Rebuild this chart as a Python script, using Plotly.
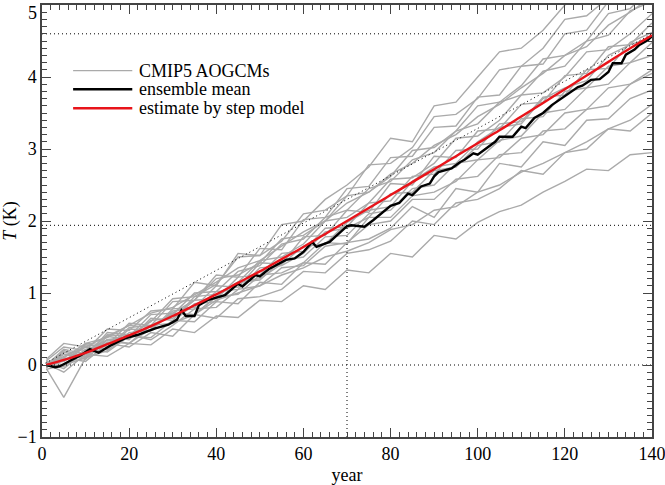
import plotly.graph_objects as go

# ---------------- data ----------------
gray_years = [1, 5, 10, 15, 20, 25, 30, 35, 40, 45, 50, 55, 60, 65, 70, 75, 80,
              85, 90, 95, 100, 105, 110, 115, 120, 125, 130, 135, 140]

model_A = [0.02, -0.10, 0.15, 0.12, 0.30, 0.28, 0.50, 0.45, 0.68, 0.66, 0.90, 0.88, 1.10, 1.05, 1.32, 1.28, 1.55, 1.50, 1.80, 1.75, 1.98, 2.13, 2.22, 2.40, 2.55, 2.72, 2.70, 2.92, 2.95]
model_B = [-0.03, 0.10, 0.05, 0.30, 0.25, 0.45, 0.40, 0.70, 0.65, 0.92, 0.95, 1.05, 1.30, 1.28, 1.55, 1.60, 1.72, 2.00, 1.95, 2.25, 2.30, 2.45, 2.70, 2.65, 2.95, 3.00, 3.28, 3.25, 3.50]
model_C = [0.05, 0.00, 0.22, 0.18, 0.40, 0.38, 0.62, 0.60, 0.88, 0.85, 1.15, 1.12, 1.42, 1.40, 1.70, 1.75, 1.90, 2.20, 2.05, 2.45, 2.40, 2.80, 2.75, 3.10, 3.05, 3.40, 3.42, 3.70, 3.82]
model_D = [-0.05, -0.45, 0.10, 0.20, 0.42, 0.35, 0.55, 0.78, 0.80, 1.05, 1.10, 1.35, 1.38, 1.65, 1.70, 1.95, 2.00, 2.30, 2.30, 2.58, 2.62, 2.92, 2.95, 3.25, 3.28, 3.55, 3.60, 3.90, 4.05]
model_E = [0.03, 0.15, 0.08, 0.35, 0.30, 0.55, 0.58, 0.70, 0.95, 0.98, 1.25, 1.28, 1.42, 1.70, 1.68, 2.05, 2.05, 2.35, 2.40, 2.55, 2.85, 2.88, 3.15, 3.20, 3.50, 3.55, 3.85, 3.90, 4.10]
model_F = [0.00, 0.05, 0.25, 0.22, 0.45, 0.48, 0.60, 0.85, 0.88, 1.15, 1.18, 1.45, 1.50, 1.78, 1.80, 2.10, 2.15, 2.45, 2.50, 2.80, 2.85, 3.12, 3.18, 3.50, 3.55, 3.85, 3.90, 4.20, 4.30]
model_G = [-0.02, 0.20, 0.12, 0.35, 0.38, 0.48, 0.75, 0.78, 1.02, 1.05, 1.35, 1.38, 1.55, 1.85, 1.90, 2.05, 2.38, 2.40, 2.70, 2.75, 3.05, 3.10, 3.42, 3.45, 3.80, 3.85, 4.15, 4.20, 4.48]
model_H = [0.04, -0.05, 0.20, 0.35, 0.38, 0.62, 0.65, 0.90, 0.92, 1.22, 1.25, 1.55, 1.58, 1.90, 1.92, 2.25, 2.28, 2.62, 2.65, 2.98, 3.00, 3.35, 3.38, 3.72, 3.75, 4.10, 4.12, 4.48, 4.62]
model_I = [0.00, 0.12, 0.25, 0.22, 0.50, 0.48, 0.78, 0.80, 1.10, 1.08, 1.42, 1.40, 1.78, 1.80, 2.15, 2.12, 2.52, 2.50, 2.90, 2.88, 3.25, 3.28, 3.62, 3.65, 4.02, 4.05, 4.42, 4.45, 4.75]
model_J = [-0.04, 0.18, 0.10, 0.40, 0.35, 0.65, 0.62, 0.95, 0.98, 1.15, 1.45, 1.50, 1.68, 2.00, 2.05, 2.25, 2.58, 2.60, 2.80, 3.15, 3.18, 3.40, 3.75, 3.78, 4.00, 4.35, 4.38, 4.60, 4.88]
model_K = [0.05, 0.05, 0.28, 0.25, 0.52, 0.55, 0.70, 1.00, 1.02, 1.30, 1.38, 1.68, 1.75, 2.05, 2.15, 2.45, 2.55, 2.85, 2.95, 3.25, 3.35, 3.65, 3.75, 4.08, 4.15, 4.50, 4.58, 4.92, 5.05]
model_L = [0.00, 0.22, 0.15, 0.42, 0.40, 0.70, 0.72, 0.90, 1.20, 1.25, 1.42, 1.75, 1.80, 2.00, 2.35, 2.40, 2.62, 2.98, 3.02, 3.25, 3.60, 3.65, 3.88, 4.25, 4.30, 4.50, 4.88, 4.95, 5.25]
model_M = [0.02, -0.02, 0.30, 0.28, 0.58, 0.55, 0.88, 0.90, 1.25, 1.22, 1.62, 1.60, 2.02, 2.05, 2.45, 2.48, 2.88, 2.90, 3.30, 3.32, 3.72, 3.75, 4.15, 4.18, 4.60, 4.65, 5.05, 5.10, 5.45]
model_N = [-0.03, 0.15, 0.12, 0.45, 0.42, 0.60, 0.92, 0.95, 1.12, 1.50, 1.52, 1.72, 2.10, 2.15, 2.35, 2.78, 2.80, 3.02, 3.45, 3.48, 3.70, 4.10, 4.15, 4.40, 4.80, 4.85, 5.10, 5.50, 5.65]
model_O = [0.06, 0.25, 0.20, 0.50, 0.48, 0.75, 0.78, 1.15, 1.10, 1.55, 1.52, 1.95, 2.00, 2.30, 2.50, 2.75, 3.15, 3.10, 3.60, 3.65, 4.00, 4.35, 4.40, 4.65, 5.00, 5.20, 5.50, 5.70, 5.95]
model_P = [0.08, 0.30, 0.25, 0.40, 0.55, 0.52, 0.72, 0.70, 0.90, 1.00, 1.10, 1.25, 1.35, 1.50, 1.58, 1.70, 1.88, 1.95, 2.15, 2.20, 2.40, 2.50, 2.68, 2.80, 2.95, 3.10, 3.28, 3.40, 3.62]
model_Q = [-0.06, 0.00, 0.10, 0.32, 0.30, 0.50, 0.72, 0.70, 0.95, 1.15, 1.20, 1.40, 1.65, 1.68, 1.98, 2.15, 2.20, 2.55, 2.75, 2.80, 3.10, 3.30, 3.35, 3.70, 3.85, 3.95, 4.30, 4.45, 4.55]
model_R = [0.03, 0.10, 0.30, 0.38, 0.55, 0.72, 0.80, 0.98, 1.15, 1.35, 1.45, 1.65, 1.85, 2.00, 2.25, 2.40, 2.65, 2.80, 3.05, 3.20, 3.45, 3.62, 3.85, 4.05, 4.30, 4.42, 4.72, 4.90, 5.12]

models = [model_A, model_B, model_C, model_D, model_E, model_F, model_G, model_H, model_I,
          model_J, model_K, model_L, model_M, model_N, model_O, model_P, model_Q, model_R]

mean_years = [1, 3, 4, 7, 9, 11, 13, 16, 19, 22, 26, 29, 31, 32, 33, 35, 36, 38, 41, 42, 45, 46,
              49, 50, 52, 54, 56, 58, 60, 62, 63, 66, 68, 70, 71, 74, 76, 78, 80, 82, 84, 85, 87,
              89, 90, 91, 94, 96, 97, 99, 100, 102, 104, 105, 108, 110, 111, 113, 115, 117, 120,
              123, 124, 126, 128, 130, 131, 133, 134, 136, 137, 139, 140]
mean_T = [0.00, -0.03, -0.02, 0.07, 0.14, 0.22, 0.17, 0.28, 0.37, 0.42, 0.51, 0.56, 0.63, 0.76,
          0.68, 0.68, 0.83, 0.90, 0.95, 0.97, 1.13, 1.09, 1.25, 1.23, 1.33, 1.39, 1.46, 1.48, 1.57,
          1.71, 1.64, 1.71, 1.82, 1.93, 1.94, 1.92, 2.01, 2.11, 2.21, 2.25, 2.38, 2.36, 2.48, 2.52,
          2.62, 2.68, 2.73, 2.82, 2.85, 2.94, 2.92, 3.01, 3.10, 3.17, 3.17, 3.31, 3.29, 3.43, 3.50,
          3.61, 3.73, 3.86, 3.88, 3.96, 3.97, 4.07, 4.19, 4.19, 4.31, 4.38, 4.44, 4.51, 4.57]

step_years = [1, 5, 10, 15, 20, 25, 30, 35, 40, 45, 50, 55, 60, 65, 70, 75, 80, 85, 90, 95,
              100, 105, 110, 115, 120, 125, 130, 135, 140]
step_T = [0.00, 0.07, 0.17, 0.29, 0.41, 0.54, 0.68, 0.83, 0.98, 1.14, 1.30, 1.47, 1.64, 1.82,
          2.00, 2.18, 2.36, 2.54, 2.72, 2.90, 3.08, 3.26, 3.45, 3.64, 3.83, 4.02, 4.21, 4.40, 4.58]

# reference values marked with dotted lines
tcr_year = 70
tcr_T = 1.94
end_year = 140
end_T = 4.6

y_tickvals = [-1, 0, 1, 2, 3, 4, 5]
y_ticktext = ["\u22121", "0", "1", "2", "3", "4", ""]   # top label drawn separately below
y_top_label = "5"

legend_labels = ["CMIP5 AOGCMs", "ensemble mean", "estimate by step model"]

# ---------------- style ----------------
GRAY = "#aaaaaa"
RED = "#e8141a"
FONT = "Liberation Serif"
DOT = "1px,3px"
AXC = "#444444"

fig = go.Figure()

for m in models:
    fig.add_trace(go.Scatter(x=gray_years, y=m, mode="lines",
                             line=dict(color=GRAY, width=1.4), showlegend=False,
                             hoverinfo="skip"))

# dotted reference lines
dot_line = dict(color="black", width=1, dash=DOT)
fig.add_trace(go.Scatter(x=[0, end_year], y=[0, 0], mode="lines", line=dot_line, showlegend=False))
fig.add_trace(go.Scatter(x=[0, end_year], y=[tcr_T, tcr_T], mode="lines", line=dot_line, showlegend=False))
fig.add_trace(go.Scatter(x=[0, end_year], y=[end_T, end_T], mode="lines", line=dot_line, showlegend=False))
fig.add_trace(go.Scatter(x=[tcr_year, tcr_year], y=[-1, tcr_T], mode="lines", line=dot_line, showlegend=False))
fig.add_trace(go.Scatter(x=[0, end_year], y=[0, end_T], mode="lines", line=dot_line, showlegend=False))

fig.add_trace(go.Scatter(x=mean_years, y=mean_T, mode="lines",
                         line=dict(color="black", width=2.4), showlegend=False))
fig.add_trace(go.Scatter(x=step_years, y=step_T, mode="lines", line_shape="spline",
                         line=dict(color=RED, width=2.4), showlegend=False))

# hand-drawn legend (paper coordinates)
leg_rows = [0.848, 0.805, 0.761]
leg_colors = [GRAY, "black", RED]
leg_widths = [1.2, 2.4, 2.4]
for yy, lab, c, w in zip(leg_rows, legend_labels, leg_colors, leg_widths):
    fig.add_shape(type="line", xref="paper", yref="paper", x0=0.051, x1=0.148, y0=yy, y1=yy,
                  line=dict(color=c, width=w))
    fig.add_annotation(xref="paper", yref="paper", x=0.157, y=yy, text=lab, showarrow=False,
                       xanchor="left", yanchor="middle", borderpad=0,
                       font=dict(family=FONT, size=18, color="black"))

# top y tick label, kept inside the page (as in the original)
fig.add_annotation(xref="paper", yref="y", x=0, y=y_tickvals[-1], text=y_top_label,
                   showarrow=False, xanchor="right", yanchor="top", xshift=-4, yshift=3,
                   borderpad=0, font=dict(family=FONT, size=18, color="black"))

axis_common = dict(showgrid=False, zeroline=False, showline=True, linecolor=AXC, linewidth=1.5,
                   mirror="ticks", ticks="inside", tickcolor=AXC, tickwidth=1.2, ticklen=9,
                   automargin=False, ticklabeloverflow="allow",
                   tickfont=dict(family=FONT, size=18, color="black"))

fig.update_layout(
    width=665, height=485,
    margin=dict(l=42, r=13, t=5, b=48),
    paper_bgcolor="white", plot_bgcolor="white",
    showlegend=False,
    font=dict(family=FONT, size=18, color="black"),
    xaxis=dict(range=[0, 140], dtick=20, tick0=0,
               minor=dict(dtick=2, ticklen=5, ticks="inside", tickcolor=AXC, tickwidth=1),
               title=dict(text="year", font=dict(family=FONT, size=18)),
               **axis_common),
    yaxis=dict(range=[-1, 5], tickmode="array", tickvals=y_tickvals, ticktext=y_ticktext,
               minor=dict(dtick=0.1, ticklen=5, ticks="inside", tickcolor=AXC, tickwidth=1),
               title=dict(text="<i>T</i> (K)", font=dict(family=FONT, size=18)),
               **axis_common),
)

# remove the browser's default 8px page margin so the figure fills the window
fig.write_html("out.html", config={"displayModeBar": False},
               post_script="document.body.style.margin='0';")
